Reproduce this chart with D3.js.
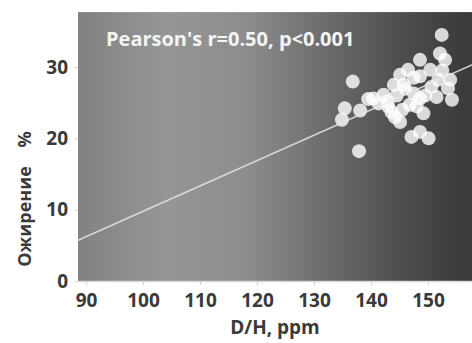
<!DOCTYPE html>
<html><head><meta charset="utf-8">
<script src="https://cdn.jsdelivr.net/npm/d3@7"></script>
<style>
html,body{margin:0;padding:0;background:#fff;}
svg{display:block;font-family:"Open Sans",sans-serif;}
</style></head>
<body>
<svg id="c" width="472" height="343"></svg>
<script>
const dhValues = [136.8,137.9,135.4,134.9,138.1,140.4,142.2,145.1,146.5,148.6,148.6,145.7,144.2,145.1,146.8,148.6,149.2,147.1,148.6,150.1,152.4,152.1,153.0,151.8,153.9,154.2,151.5,150.4,143.6,141.3,150.6,147.5,144.5,142.9,152.5,153.5,144.0,146.0,147.5,149.5,143.0,145.5,148.0,139.5];
const obesityValues = [27.95,18.2,24.2,22.6,23.9,25.6,26.1,28.9,29.6,31.0,28.7,27.5,23.0,22.3,24.7,25.6,23.5,20.2,20.9,20.0,34.5,31.9,31.0,28.2,28.2,25.4,25.8,29.6,23.7,24.9,27.2,26.3,26.0,25.2,29.5,27.0,27.5,27.0,28.5,26.0,24.5,24.0,24.5,25.5];
const fitX = [88.6, 158];
const fitY = [5.7, 30.4];
const xTicks = [90,100,110,120,130,140,150];
const yTicks = [0,10,20,30];
const annotation = "Pearson's r=0.50, p<0.001";
const xTitle = "D/H, ppm";
const yTitle = "Ожирение    %";

const svg = d3.select("#c");
const x = d3.scaleLinear().domain([90,150]).range([86,428]);
const y = d3.scaleLinear().domain([0,30]).range([281,67]);
const xMin = 88.6, xMax = 160, yMax = 37.7;

const defs = svg.append("defs");
const g = defs.append("linearGradient").attr("id","bg").attr("x1","0").attr("x2","1").attr("y1","0").attr("y2","0");
[[0,"#828282"],[0.22,"#969696"],[0.42,"#8c8c8c"],[0.62,"#6a6a6a"],[0.82,"#4a4a4a"],[1,"#363636"]].forEach(s=>g.append("stop").attr("offset",s[0]).attr("stop-color",s[1]));

svg.append("rect").attr("x",x(xMin)).attr("y",y(yMax)).attr("width",x(xMax)-x(xMin)).attr("height",y(0)-y(yMax)).attr("fill","url(#bg)");
svg.append("line").attr("x1",x(xMin)).attr("x2",472).attr("y1",y(0)+0.5).attr("y2",y(0)+0.5).attr("stroke","#d8d8d8").attr("stroke-width",1.5);

const xAxis = svg.append("g").attr("transform",`translate(0,${y(0)})`)
  .call(d3.axisBottom(x).tickValues(xTicks).tickSize(4).tickPadding(9));
xAxis.select(".domain").remove();
xAxis.selectAll("line").attr("stroke","#d0d0d0");
xAxis.selectAll("text").attr("font-size",19).attr("font-weight","bold").attr("fill","#3a3a3a").attr("font-family","Open Sans");

const yAxis = svg.append("g").attr("transform",`translate(${x(xMin)},0)`)
  .call(d3.axisLeft(y).tickValues(yTicks).tickSize(3).tickPadding(7));
yAxis.select(".domain").remove();
yAxis.selectAll("line").attr("stroke","#d0d0d0");
yAxis.selectAll("text").attr("font-size",19).attr("font-weight","bold").attr("fill","#3a3a3a").attr("font-family","Open Sans");

const pts = dhValues.map((d,i)=>({x:d,y:obesityValues[i]}));
svg.append("g").selectAll("circle").data(pts).join("circle")
  .attr("cx",d=>x(d.x)).attr("cy",d=>y(d.y)).attr("r",7)
  .attr("fill","#ffffff").attr("fill-opacity",0.8);

svg.append("line").attr("x1",x(fitX[0])).attr("y1",y(fitY[0])).attr("x2",x(fitX[1])).attr("y2",y(fitY[1]))
  .attr("stroke","#e6e6e6").attr("stroke-opacity",0.85).attr("stroke-width",1.6);

svg.append("text").attr("x",106).attr("y",46).attr("fill","#f4f4f4").attr("font-size",20).attr("font-weight","bold").text(annotation);

svg.append("text").attr("x",275).attr("y",334).attr("text-anchor","middle").attr("font-size",19).attr("font-weight","bold").attr("fill","#3a3a3a").text(xTitle);

svg.append("text").attr("transform","translate(31,199) rotate(-90)").attr("text-anchor","middle").attr("font-size",18).attr("font-weight","bold").attr("fill","#3a3a3a").style("white-space","pre").text(yTitle);
</script>
</body></html>
